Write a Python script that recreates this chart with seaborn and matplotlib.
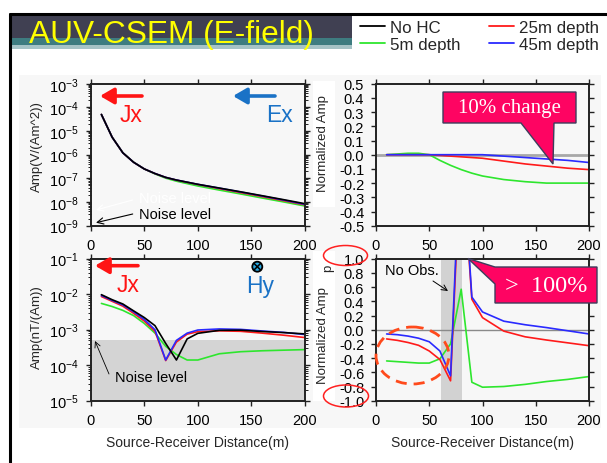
import numpy as np
import pandas as pd
import seaborn as sns
import matplotlib
matplotlib.use("Agg")
import matplotlib.pyplot as plt
from matplotlib.patches import Rectangle, Polygon, Ellipse, FancyArrowPatch, Circle
from matplotlib.lines import Line2D
from matplotlib.transforms import Affine2D
from matplotlib.ticker import LogLocator, NullFormatter, MultipleLocator, FormatStrFormatter

# source-receiver distance (m)
dist = [10, 20, 30, 40, 50, 60, 70, 80, 90, 100, 120, 140, 160, 180, 200]

colors = {"No HC": "black", "5m depth": "#2ee62e",
          "25m depth": "#ff1a1a", "45m depth": "#2a2aff"}

# Ex amplitude, V/(Am^2)
ex_nohc = [5e-5, 5.5e-6, 1.2e-6, 4.8e-7, 2.5e-7, 1.6e-7, 1.1e-7, 8.5e-8, 6.9e-8, 5.6e-8, 3.9e-8, 2.7e-8, 1.85e-8, 1.26e-8, 8.5e-9]
ex_5m = [5e-5, 5.5e-6, 1.21e-6, 4.85e-7, 2.5e-7, 1.54e-7, 1.02e-7, 7.6e-8, 6.0e-8, 4.76e-8, 3.2e-8, 2.19e-8, 1.48e-8, 1.01e-8, 6.8e-9]
ex_25m = [5e-5, 5.5e-6, 1.2e-6, 4.8e-7, 2.5e-7, 1.59e-7, 1.09e-7, 8.4e-8, 6.8e-8, 5.5e-8, 3.7e-8, 2.5e-8, 1.7e-8, 1.14e-8, 7.6e-9]
ex_45m = [5e-5, 5.5e-6, 1.2e-6, 4.8e-7, 2.5e-7, 1.6e-7, 1.1e-7, 8.5e-8, 6.9e-8, 5.6e-8, 3.86e-8, 2.65e-8, 1.8e-8, 1.21e-8, 8.0e-9]

# Ex normalized amplitude
exn_5m = [0, 0.005, 0.01, 0.01, 0, -0.04, -0.075, -0.105, -0.13, -0.15, -0.175, -0.19, -0.2, -0.2, -0.2]
exn_25m = [0, 0, 0, 0, 0, -0.005, -0.01, -0.015, -0.02, -0.025, -0.045, -0.065, -0.08, -0.095, -0.105]
exn_45m = [0, 0, 0, 0, 0, 0, 0, 0, 0, 0, -0.01, -0.02, -0.03, -0.04, -0.055]

# Hy amplitude, nT/(Am)
hy_nohc = [9.7e-3, 7.0e-3, 5.3e-3, 3.4e-3, 2.2e-3, 1.3e-3, 4.1e-4, 1.4e-4, 5.5e-4, 7.9e-4, 9.6e-4, 9.7e-4, 8.9e-4, 8.3e-4, 7.6e-4]
hy_5m = [5.5e-3, 4.5e-3, 3.5e-3, 2.5e-3, 1.5e-3, 8e-4, 3.4e-4, 2.0e-4, 1.4e-4, 1.4e-4, 2.1e-4, 2.4e-4, 2.55e-4, 2.65e-4, 2.75e-4]
hy_25m = [8.6e-3, 6.3e-3, 4.6e-3, 2.9e-3, 1.75e-3, 9e-4, 1.35e-4, 4.5e-4, 7.5e-4, 8.8e-4, 9.3e-4, 9.0e-4, 8.0e-4, 7.0e-4, 6.0e-4]
hy_45m = [9.2e-3, 6.7e-3, 5.0e-3, 3.2e-3, 1.95e-3, 1.0e-3, 1.4e-4, 5.0e-4, 8.0e-4, 9.8e-4, 1.05e-3, 1.02e-3, 9.2e-4, 8.4e-4, 7.3e-4]

# Hy normalized amplitude
hyn_5m = [-0.44, -0.45, -0.46, -0.47, -0.47, -0.41, -0.2, 0.57, -0.74, -0.81, -0.8, -0.77, -0.73, -0.7, -0.66]
hyn_25m = [-0.13, -0.15, -0.18, -0.22, -0.3, -0.42, -0.72, 2.6, 0.43, 0.17, -0.02, -0.1, -0.145, -0.185, -0.225]
hyn_45m = [-0.06, -0.07, -0.09, -0.12, -0.17, -0.3, -0.65, 2.8, 0.46, 0.25, 0.12, 0.07, 0.03, -0.015, -0.06]

noise_hy = 5.2e-4


def long_table(names, series):
    rows = [(d, n, v) for n, s in zip(names, series) for d, v in zip(dist, s)]
    return pd.DataFrame(rows, columns=["dist", "model", "val"])


order = ["5m depth", "25m depth", "45m depth", "No HC"]
ex_tab = long_table(order, [ex_5m, ex_25m, ex_45m, ex_nohc])
hy_tab = long_table(order, [hy_5m, hy_25m, hy_45m, hy_nohc])
exn_tab = long_table(order[:3], [exn_5m, exn_25m, exn_45m])
hyn_tab = long_table(order[:3], [hyn_5m, hyn_25m, hyn_45m])

sns.set_style("ticks")
plt.rcParams["font.family"] = ["Liberation Sans", "DejaVu Sans"]
plt.rcParams["axes.unicode_minus"] = False
plt.rcParams["mathtext.fontset"] = "custom"
plt.rcParams["mathtext.rm"] = "Liberation Sans"

W, H = 607, 464
fig = plt.figure(figsize=(W / 100, H / 100), dpi=100)
fig.patch.set_facecolor("white")
px = Affine2D().scale(1 / W, -1 / H).translate(0, 1) + fig.transFigure


def box(x0, y0, x1, y1):
    return [x0 / W, 1 - y1 / H, (x1 - x0) / W, (y1 - y0) / H]


ax_ex = fig.add_axes(box(90.7, 84.7, 305, 226.7))
ax_exn = fig.add_axes(box(376, 84.7, 589, 226.7))
ax_hy = fig.add_axes(box(90.7, 259.7, 305, 401.7))
ax_hyn = fig.add_axes(box(376, 259.7, 589, 401.7))

# backgrounds / slide decoration
fig.add_artist(Rectangle((19, 76), 582, 353, transform=px, fc="#f7f7f7", ec="none", zorder=-3))
fig.add_artist(Rectangle((313, 82), 22, 126, transform=px, fc="white", ec="none", zorder=-2))
fig.add_artist(Rectangle((313, 252), 22, 150, transform=px, fc="white", ec="none", zorder=-2))
fig.add_artist(Rectangle((10.5, 17.4), 341.5, 21.3, transform=px, fc="#404052", ec="none", zorder=-2))
fig.add_artist(Rectangle((10.5, 38.7), 341.5, 7, transform=px, fc="#3e7c80", ec="none", zorder=-2))
fig.add_artist(Rectangle((10.5, 45.7), 341.5, 4, transform=px, fc="#a6c3c6", ec="none", zorder=-2))
fig.add_artist(Line2D([9.5, 607], [14.5, 14.5], transform=px, color="black", lw=2.2))
fig.add_artist(Line2D([9.5, 9.5], [14.5, 464], transform=px, color="black", lw=2.2))
fig.text(29, 43, "AUV-CSEM (E-field)", transform=px, color="#ffff00", fontsize=22.8,
         va="baseline", ha="left")

for ax, tab in [(ax_ex, ex_tab), (ax_hy, hy_tab), (ax_exn, exn_tab), (ax_hyn, hyn_tab)]:
    sns.lineplot(data=tab, x="dist", y="val", hue="model", palette=colors, linewidth=1.2,
                 legend=False, errorbar=None, ax=ax)


def frame(ax):
    ax.set_facecolor("none")
    ax.set_xlim(0, 200)
    ax.xaxis.set_major_locator(MultipleLocator(50))
    ax.tick_params(which="major", direction="out", length=3.5, width=1, top=True, right=True,
                   labelsize=10.5, pad=5, color="#222222", labelcolor="black")
    ax.tick_params(which="minor", direction="out", length=2, width=0.7, top=False, right=True,
                   color="#222222")
    for s in ax.spines.values():
        s.set_linewidth(1.4)
        s.set_color("#222222")
    ax.set_xlabel("")
    ax.set_ylabel("")


for ax in (ax_ex, ax_hy, ax_exn, ax_hyn):
    frame(ax)

for ax, lo, hi in [(ax_ex, 1e-9, 1e-3), (ax_hy, 1e-5, 1e-1)]:
    ax.set_yscale("log")
    ax.set_ylim(lo, hi)
    ax.yaxis.set_major_locator(LogLocator(base=10, numticks=20))
    ax.yaxis.set_minor_locator(LogLocator(base=10, subs=np.arange(2, 10), numticks=200))
    ax.yaxis.set_minor_formatter(NullFormatter())

ax_exn.set_ylim(-0.5, 0.5)
ax_exn.yaxis.set_major_locator(MultipleLocator(0.1))
ax_exn.yaxis.set_major_formatter(FormatStrFormatter("%.1f"))
ax_exn.axhline(0, color="#a8a8a8", lw=2, zorder=0.5)

ax_hyn.set_ylim(-1, 1)
ax_hyn.yaxis.set_major_locator(MultipleLocator(0.2))
ax_hyn.yaxis.set_major_formatter(FormatStrFormatter("%.1f"))
ax_hyn.axhline(0, color="#8a8a8a", lw=1, zorder=0.5)
ax_hyn.axvspan(61, 81, color="#d2d2d2", lw=0, zorder=0.2)
ax_hy.axhspan(1e-5, noise_hy, color="#d4d4d4", lw=0, zorder=0.2)

# axis labels
lab_kw = dict(fontsize=9.5)
ax_ex.set_ylabel("Amp(V/(Am^2))", **lab_kw)
ax_hy.set_ylabel("Amp(nT/(Am))", **lab_kw)
ax_exn.set_ylabel("Normalized Amp", **lab_kw)
ax_hyn.set_ylabel("Normalized Amp", **lab_kw)
for ax, xy in [(ax_ex, (-0.25, 0.561)), (ax_hy, (-0.25, 0.526)),
               (ax_exn, (-0.249, 0.587)), (ax_hyn, (-0.249, 0.463))]:
    ax.yaxis.set_label_coords(*xy)
    ax.yaxis.label.set_va("center")
for ax in (ax_hy, ax_hyn):
    ax.set_xlabel("Source-Receiver Distance(m)", fontsize=10)
    ax.xaxis.set_label_coords(0.5, -0.29)
    ax.xaxis.label.set_va("center")
fig.text(328, 268, "p", transform=px, rotation=90, fontsize=9.5, ha="center", va="center")

# legend
handles = [Line2D([], [], color=colors[m], lw=1.3) for m in ["No HC", "5m depth", "25m depth", "45m depth"]]
fig.legend(handles, ["No HC", "5m depth", "25m depth", "45m depth"], ncol=2, loc="upper left",
           bbox_to_anchor=(360 / W, 1 - 21 / H), frameon=False, fontsize=12.2, handlelength=1.45,
           handletextpad=0.3, columnspacing=1.7, labelspacing=0.1, borderpad=0, borderaxespad=0)


def arrow(p0, p1, color, lw, style, ms):
    fig.add_artist(FancyArrowPatch(p0, p1, transform=px, arrowstyle=style, mutation_scale=ms,
                                   color=color, lw=lw, shrinkA=0, shrinkB=0, zorder=4))


thick = "-|>,head_length=0.55,head_width=0.32"
thin = "->,head_length=0.5,head_width=0.25"
arrow((142, 97), (100, 97), "#ff1414", 2.6, thick, 15)
arrow((275, 97), (233, 97), "#1a72c6", 2.6, thick, 15)
arrow((138, 266.7), (95, 266.7), "#ff1414", 2.6, thick, 15)
arrow((132.7, 215), (96, 223.7), "black", 0.8, thin, 9)
arrow((132.7, 201), (96, 211), "white", 0.8, thin, 9)
arrow((109, 375), (95, 342), "black", 0.6, thin, 8)
arrow((433, 282), (448, 292), "black", 0.7, thin, 8)

big = dict(transform=px, fontsize=16.5, ha="center", va="center")
fig.text(131, 115, "Jx", color="#ff1414", **big)
fig.text(279, 115, "Ex", color="#1a72c6", **big)
fig.text(128, 286, "Jx", color="#ff1414", **big)
fig.text(260, 287, "Hy", color="#1a72c6", **big)
fig.add_artist(Circle((257.3, 267.7), 5, transform=px, fc="#2aa8e0", ec="black", lw=1.3, zorder=4))
for dx in (-1, 1):
    fig.add_artist(Line2D([257.3 - 3.3, 257.3 + 3.3], [267.7 - 3.3 * dx, 267.7 + 3.3 * dx],
                          transform=px, color="black", lw=1.1, zorder=5))

small = dict(transform=px, fontsize=10.5, ha="left", va="center")
fig.text(139, 215.5, "Noise level", color="black", **small)
fig.text(139, 199.5, "Noise level", color="white", **small)
fig.text(115, 378, "Noise level", color="black", **small)
fig.text(385, 271, "No Obs.", color="black", **small)

# call-outs
pink = "#fe0462"
edge = "#3d3d5c"
fig.add_artist(Polygon([(443, 93), (576, 93), (576, 124), (554, 124), (553, 165), (521, 124), (443, 124)],
                       closed=True, transform=px, fc=pink, ec=edge, lw=1, zorder=3))
fig.text(509.5, 108.5, "10% change", transform=px, color="white", fontsize=15, ha="center",
         va="center", family=["Liberation Serif", "DejaVu Serif"], zorder=6)
fig.add_artist(Polygon([(495, 268), (597, 268), (597, 304), (495, 304), (495, 285), (468, 259.5)],
                       closed=True, transform=px, fc=pink, ec=edge, lw=1, zorder=3))
fig.text(546, 287, ">  100%", transform=px, color="white", fontsize=17.5, ha="center",
         va="center", family=["Liberation Serif", "DejaVu Serif"], zorder=6)

# highlight ellipses
fig.add_artist(Ellipse((345.5, 256.5), 44, 20, transform=px, fc="none", ec="#ff2020", lw=1.1, zorder=4))
fig.add_artist(Ellipse((346, 397), 45, 22, transform=px, fc="none", ec="#ff2020", lw=1.1, zorder=4))
fig.add_artist(Ellipse((412.5, 356.5), 73, 57, transform=px, fc="none", ec="#ff4a1c", lw=2,
                       ls=(0, (4, 2.5)), zorder=4))

fig.savefig("out.png", dpi=100)
